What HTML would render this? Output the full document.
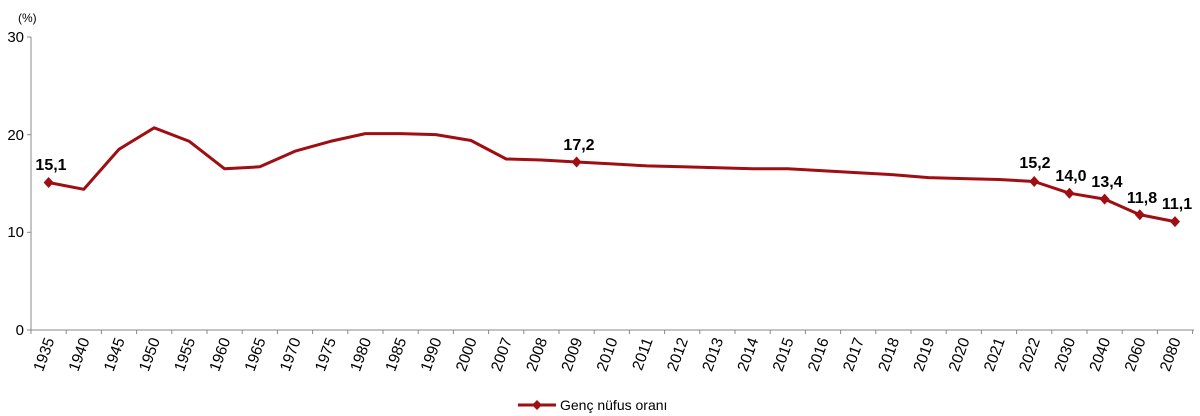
<!DOCTYPE html>
<html><head><meta charset="utf-8"><style>
html,body{margin:0;padding:0;background:#fff;width:1200px;height:416px;overflow:hidden}
text{font-family:"Liberation Sans",Arial,sans-serif;fill:#000}
</style></head><body>
<svg width="1200" height="416" xmlns="http://www.w3.org/2000/svg">
<g stroke="#888" stroke-width="1" fill="none">
<line x1="31" y1="37" x2="31" y2="330"/>
<line x1="31" y1="330" x2="1194" y2="330"/>
<line x1="27" y1="37" x2="31" y2="37"/><line x1="27" y1="134.7" x2="31" y2="134.7"/><line x1="27" y1="232.3" x2="31" y2="232.3"/><line x1="27" y1="330" x2="31" y2="330"/>
<path d="M31 330v4M66.2 330v4M101.4 330v4M136.6 330v4M171.8 330v4M207 330v4M242.2 330v4M277.4 330v4M312.6 330v4M347.8 330v4M383 330v4M418.2 330v4M453.4 330v4M488.6 330v4M523.8 330v4M559 330v4M594.2 330v4M629.4 330v4M664.6 330v4M699.8 330v4M735 330v4M770.2 330v4M805.4 330v4M840.6 330v4M875.8 330v4M911 330v4M946.2 330v4M981.4 330v4M1016.6 330v4M1051.8 330v4M1087 330v4M1122.2 330v4M1157.4 330v4M1192.6 330v4"/>
</g>
<g font-size="15" text-anchor="end">
<text x="24" y="42">30</text><text x="24" y="140">20</text><text x="24" y="237">10</text><text x="24" y="335">0</text>
</g>
<text x="18" y="22" font-size="12">(%)</text>
<polyline fill="none" stroke="#9e0e12" stroke-width="3" stroke-linejoin="round" points="48.6,182.5 83.8,189.3 119,149.3 154.2,127.8 189.4,141.4 224.6,168.8 259.8,166.8 295,151.2 330.2,141.4 365.4,133.6 400.6,133.6 435.8,134.6 471,140.5 506.2,159 541.4,160 576.6,162 611.8,163.9 647,165.9 682.2,166.8 717.4,167.8 752.6,168.8 787.8,168.8 823,170.7 858.2,172.7 893.4,174.7 928.6,177.6 963.8,178.6 999,179.5 1034.2,181.5 1069.4,193.2 1104.6,199.1 1139.8,214.7 1175,221.6"/>
<g fill="#9e0e12">
<path d="M48.6 177l5 5.5-5 5.5-5-5.5z"/>
<path d="M576.6 156.5l5 5.5-5 5.5-5-5.5z"/>
<path d="M1034.2 176l5 5.5-5 5.5-5-5.5z"/>
<path d="M1069.4 187.7l5 5.5-5 5.5-5-5.5z"/>
<path d="M1104.6 193.6l5 5.5-5 5.5-5-5.5z"/>
<path d="M1139.8 209.2l5 5.5-5 5.5-5-5.5z"/>
<path d="M1175 216.1l5 5.5-5 5.5-5-5.5z"/>
</g>
<g font-size="16" font-weight="bold" text-anchor="middle">
<text x="51" y="170">15,1</text><text x="579" y="150">17,2</text><text x="1035" y="168">15,2</text><text x="1071" y="181">14,0</text><text x="1107" y="187">13,4</text><text x="1142" y="203">11,8</text><text x="1177" y="209">11,1</text>
</g>
<g font-size="15.5" text-anchor="end">
<text transform="translate(54.6,340) rotate(-70)">1935</text>
<text transform="translate(89.8,340) rotate(-70)">1940</text>
<text transform="translate(125,340) rotate(-70)">1945</text>
<text transform="translate(160.2,340) rotate(-70)">1950</text>
<text transform="translate(195.4,340) rotate(-70)">1955</text>
<text transform="translate(230.6,340) rotate(-70)">1960</text>
<text transform="translate(265.8,340) rotate(-70)">1965</text>
<text transform="translate(301,340) rotate(-70)">1970</text>
<text transform="translate(336.2,340) rotate(-70)">1975</text>
<text transform="translate(371.4,340) rotate(-70)">1980</text>
<text transform="translate(406.6,340) rotate(-70)">1985</text>
<text transform="translate(441.8,340) rotate(-70)">1990</text>
<text transform="translate(477,340) rotate(-70)">2000</text>
<text transform="translate(512.2,340) rotate(-70)">2007</text>
<text transform="translate(547.4,340) rotate(-70)">2008</text>
<text transform="translate(582.6,340) rotate(-70)">2009</text>
<text transform="translate(617.8,340) rotate(-70)">2010</text>
<text transform="translate(653,340) rotate(-70)">2011</text>
<text transform="translate(688.2,340) rotate(-70)">2012</text>
<text transform="translate(723.4,340) rotate(-70)">2013</text>
<text transform="translate(758.6,340) rotate(-70)">2014</text>
<text transform="translate(793.8,340) rotate(-70)">2015</text>
<text transform="translate(829,340) rotate(-70)">2016</text>
<text transform="translate(864.2,340) rotate(-70)">2017</text>
<text transform="translate(899.4,340) rotate(-70)">2018</text>
<text transform="translate(934.6,340) rotate(-70)">2019</text>
<text transform="translate(969.8,340) rotate(-70)">2020</text>
<text transform="translate(1005,340) rotate(-70)">2021</text>
<text transform="translate(1040.2,340) rotate(-70)">2022</text>
<text transform="translate(1075.4,340) rotate(-70)">2030</text>
<text transform="translate(1110.6,340) rotate(-70)">2040</text>
<text transform="translate(1145.8,340) rotate(-70)">2060</text>
<text transform="translate(1181,340) rotate(-70)">2080</text>
</g>
<line x1="518" y1="405" x2="556" y2="405" stroke="#9e0e12" stroke-width="3"/>
<path d="M537 400l5 5-5 5-5-5z" fill="#9e0e12"/>
<text x="560" y="410" font-size="14">Genç nüfus oranı</text>
</svg>
</body></html>
